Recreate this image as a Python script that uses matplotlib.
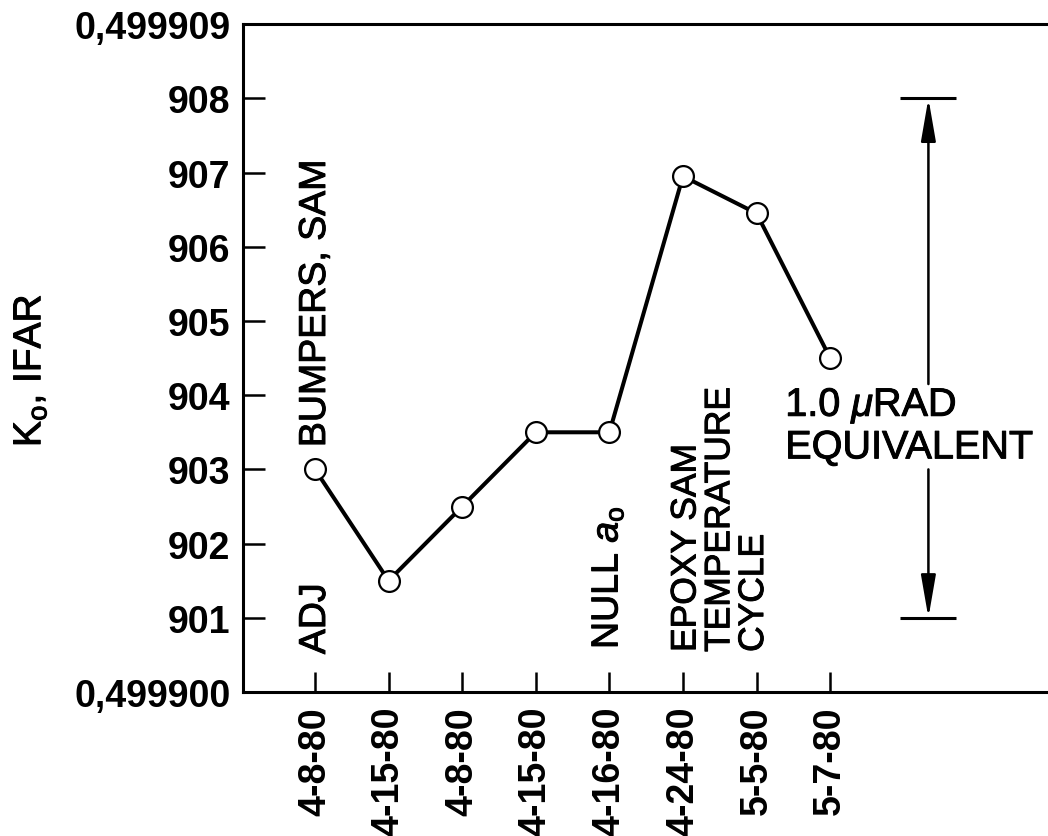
import matplotlib
matplotlib.use("Agg")
import matplotlib.pyplot as plt
import matplotlib.patheffects as pe

plt.rcParams['font.family'] = ['Liberation Sans', 'DejaVu Sans']
plt.rcParams['mathtext.fontset'] = 'custom'
plt.rcParams['mathtext.rm'] = 'Liberation Sans'
plt.rcParams['mathtext.it'] = 'Liberation Sans:italic'

# K_o readings (last three digits after 0,499...)
dates = ["4-8-80", "4-15-80", "4-8-80", "4-15-80", "4-16-80", "4-24-80", "5-5-80", "5-7-80"]
k_values = [903.0, 901.5, 902.5, 903.5, 903.5, 906.95, 906.45, 904.5]

y_ticks = [900, 901, 902, 903, 904, 905, 906, 907, 908, 909]
y_tick_labels = ["0,499900", "901", "902", "903", "904", "905", "906", "907", "908", "0,499909"]

# 1.0 microradian equivalent span
span_low, span_high = 901, 908

x = list(range(1, len(dates) + 1))

# slightly heavier strokes for the plain-weight lettering
heavy = [pe.withStroke(linewidth=0.7, foreground='black')]

fig = plt.figure(figsize=(10.48, 8.37), dpi=100)
ax = fig.add_axes([0.2319, 0.172, 0.7681, 0.798])

ax.plot(x, k_values, color='black', lw=2.9, marker='o', markersize=15,
        markerfacecolor='white', markeredgecolor='black', markeredgewidth=1.6,
        zorder=3)

ax.set_xlim(0.022, 10.96)
ax.set_ylim(900, 909)

ax.set_xticks(x)
ax.set_xticklabels(dates, rotation=90, fontsize=27, fontweight='bold')
ax.set_yticks(y_ticks)
ax.set_yticklabels(y_tick_labels, fontsize=27, fontweight='bold')

ax.tick_params(axis='x', direction='in', length=14.5, width=1.8, pad=10)
ax.tick_params(axis='y', direction='in', length=16, width=1.8, pad=9)

for side in ['left', 'bottom', 'top']:
    ax.spines[side].set_linewidth(2.2)
ax.spines['right'].set_visible(False)

# event notes written upward along the date columns
note_kw = dict(rotation=90, ha='center', va='bottom', path_effects=heavy)
ax.text(1, 900.51, "ADJ", fontsize=27, **note_kw)
ax.text(1, 903.3, "BUMPERS, SAM", fontsize=27, **note_kw)
ax.text(4.97, 900.58, r"NULL $\mathit{a}_\mathregular{o}$", fontsize=27, **note_kw)
ax.text(6.5, 900.54, "EPOXY SAM\nTEMPERATURE\nCYCLE", fontsize=25.5,
        multialignment='left', linespacing=1.03, **note_kw)

# scale bar with arrows
arrow_x = 9.335
cap_half = 0.38
ax.hlines([span_high, span_low], arrow_x - cap_half, arrow_x + cap_half,
          color='black', lw=2.2)
arrow_kw = dict(arrowstyle='-|>,head_length=2.6,head_width=0.45', color='black',
                lw=1.8, shrinkA=0, shrinkB=0, mutation_scale=10)
ax.annotate('', xy=(arrow_x, span_high), xytext=(arrow_x, 904.15), arrowprops=arrow_kw)
ax.annotate('', xy=(arrow_x, span_low), xytext=(arrow_x, 903.0), arrowprops=arrow_kw)
ax.text(7.39, 903.58, "1.0 $\\mu$RAD\nEQUIVALENT", fontsize=28.5, ha='left',
        va='center', linespacing=1.1, path_effects=heavy)

fig.text(0.0286, 0.556, r"K$_\mathregular{o}$, IFAR", rotation=90, fontsize=28,
         ha='center', va='center', path_effects=heavy)

fig.savefig("out.png", dpi=100)
